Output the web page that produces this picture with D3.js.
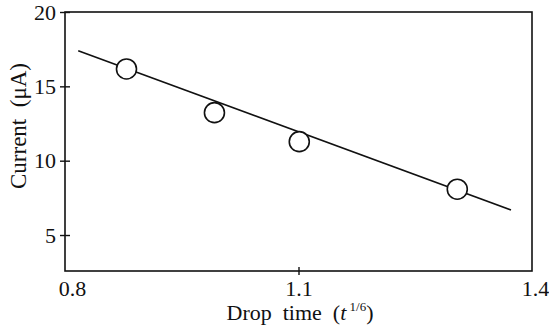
<!DOCTYPE html>
<html>
<head>
<meta charset="utf-8">
<script src="https://cdn.jsdelivr.net/npm/d3@7"></script>
<style>
  body { margin: 0; background: #fff; }
  svg { display: block; font-family: "Liberation Serif", "DejaVu Serif", serif; }
</style>
</head>
<body>
<svg id="chart" width="549" height="326"></svg>
<script>
// measured points
var dropTime = [0.879, 0.992, 1.101, 1.304];
var current = [16.17, 13.23, 11.28, 8.08];

// fitted line end points
var fitTime = [0.817, 1.373];
var fitCurrent = [17.40, 6.68];

var xTicks = [0.8, 1.1, 1.4];
var yTicks = [5, 10, 15, 20];

var svg = d3.select("#chart");

var mLeft = 65, mRight = 532, mTop = 12, mBottom = 271;
var sStroke = "#111";

var x = d3.scaleLinear().domain([0.8, 1.4]).range([mLeft, mRight]);
var y = d3.scaleLinear().domain([2.58, 20]).range([mBottom, mTop]);

// frame
svg.append("rect")
    .attr("x", mLeft).attr("y", mTop)
    .attr("width", mRight - mLeft).attr("height", mBottom - mTop)
    .attr("fill", "none")
    .attr("stroke", sStroke)
    .attr("stroke-width", 1.6);

// y axis
var gy = svg.append("g")
    .attr("transform", `translate(${mLeft},0)`)
    .call(d3.axisLeft(y).tickValues(yTicks).tickFormat(d3.format("d")).tickSize(5).tickPadding(4));
gy.select(".domain").remove();
gy.selectAll(".tick line").attr("x1", -5).attr("x2", 5).attr("stroke", sStroke).attr("stroke-width", 1.4);
gy.selectAll(".tick text")
    .attr("font-family", "Liberation Serif")
    .attr("font-size", 22)
    .attr("fill", sStroke);

// x axis
var gx = svg.append("g")
    .attr("transform", `translate(0,${mBottom})`)
    .call(d3.axisBottom(x).tickValues(xTicks).tickFormat(d3.format(".1f")).tickSize(4).tickPadding(5));
gx.select(".domain").remove();
gx.selectAll(".tick line").attr("y1", -4).attr("y2", 4).attr("stroke", sStroke).attr("stroke-width", 1.4);
gx.selectAll(".tick line").filter((d, i) => i !== 1).remove();
gx.selectAll(".tick text")
    .attr("font-family", "Liberation Serif")
    .attr("font-size", 22)
    .attr("fill", sStroke)
    .attr("dx", (d, i) => i === 0 ? 7 : (i === 2 ? 3 : 0));

// fit line
var line = d3.line()
    .x(d => x(d[0]))
    .y(d => y(d[1]));

svg.append("path")
    .datum(d3.zip(fitTime, fitCurrent))
    .attr("fill", "none")
    .attr("stroke", sStroke)
    .attr("stroke-width", 1.6)
    .attr("d", line);

// points
svg.selectAll("circle.pt")
    .data(d3.zip(dropTime, current))
    .join("circle")
    .attr("class", "pt")
    .attr("cx", d => x(d[0]))
    .attr("cy", d => y(d[1]))
    .attr("r", 10)
    .attr("fill", "#fff")
    .attr("stroke", sStroke)
    .attr("stroke-width", 1.6);

// axis titles
svg.append("text")
    .attr("transform", "translate(26,126) rotate(-90)")
    .attr("text-anchor", "middle")
    .attr("font-size", 23)
    .attr("fill", sStroke)
    .attr("xml:space", "preserve")
    .text("Current  (\u03bcA)");

var xt = svg.append("text")
    .attr("x", 300)
    .attr("y", 320)
    .attr("text-anchor", "middle")
    .attr("font-size", 22)
    .attr("fill", sStroke)
    .attr("xml:space", "preserve");
xt.append("tspan").text("Drop  time  (");
xt.append("tspan").attr("font-style", "italic").text("t");
xt.append("tspan").attr("font-size", 13).attr("dy", -9).text(" 1/6");
xt.append("tspan").attr("dy", 9).text(")");
</script>
</body>
</html>
